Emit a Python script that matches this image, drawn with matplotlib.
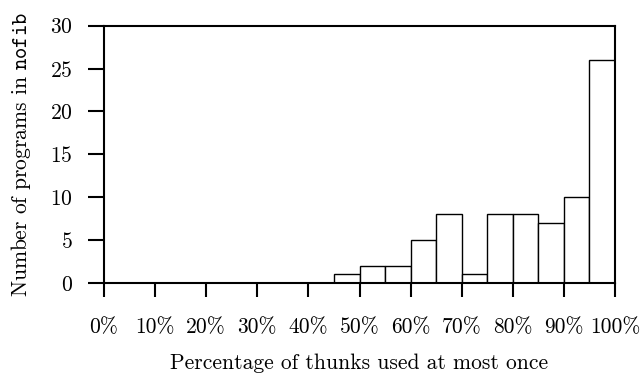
import matplotlib
matplotlib.use('Agg')
import matplotlib.pyplot as plt
import numpy as np

# histogram of thunk usage, 5% wide bins
bin_lefts = [0, 5, 10, 15, 20, 25, 30, 35, 40, 45, 50, 55, 60, 65, 70, 75, 80, 85, 90, 95]
counts = [0, 0, 0, 0, 0, 0, 0, 0, 0, 1, 2, 2, 5, 8, 1, 8, 8, 7, 10, 26]
bin_width = 5

x_ticks = [0, 10, 20, 30, 40, 50, 60, 70, 80, 90, 100]
x_ticklabels = ['0%', '10%', '20%', '30%', '40%', '50%', '60%', '70%', '80%', '90%', '100%']
y_ticks = [0, 5, 10, 15, 20, 25, 30]

plt.rcParams['font.family'] = 'cmr10'
plt.rcParams['mathtext.fontset'] = 'cm'
plt.rcParams['axes.formatter.use_mathtext'] = True

fig = plt.figure(figsize=(6.42, 3.74), dpi=100)
ax = fig.add_axes([104 / 642, 1 - 283 / 374, 511 / 642, 257.4 / 374])

ax.bar(bin_lefts, counts, width=bin_width, align='edge',
       facecolor='white', edgecolor='black', linewidth=1.0)

ax.set_xlim(0, 100)
ax.set_ylim(0, 30)

ax.set_xticks(x_ticks)
ax.set_xticklabels(x_ticklabels)
ax.set_yticks(y_ticks)

for sp in ax.spines.values():
    sp.set_linewidth(1.5)

ax.tick_params(axis='x', direction='out', length=10, width=1.5, pad=15, labelsize=15.5)
ax.tick_params(axis='y', direction='out', length=11.5, width=1.5, pad=11, labelsize=15.5)

ax.set_xlabel('Percentage of thunks used at most once', fontsize=15.5, labelpad=12)
ax.set_ylabel(r'Number of programs in $\mathtt{nofib}$', fontsize=15.5, labelpad=12)

plt.savefig('out.png', dpi=100)
plt.close()
